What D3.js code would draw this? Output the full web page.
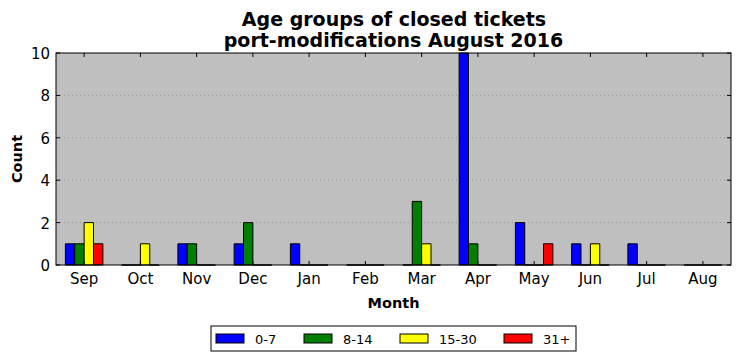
<!DOCTYPE html>
<html>
<head>
<meta charset="utf-8">
<script src="https://cdn.jsdelivr.net/npm/d3@7"></script>
<style>
  body { margin: 0; background: #fff; }
  text { font-family: "DejaVu Sans", sans-serif; }
</style>
</head>
<body>
<div id="chart"></div>
<script>
const months = ["Sep", "Oct", "Nov", "Dec", "Jan", "Feb", "Mar", "Apr", "May", "Jun", "Jul", "Aug"];
const groups = ["0-7", "8-14", "15-30", "31+"];
const colors = ["#0000ff", "#008000", "#ffff00", "#ff0000"];
const age0to7 = [1, 0, 1, 1, 1, 0, 0, 10, 2, 1, 1, 0];
const age8to14 = [1, 0, 1, 2, 0, 0, 3, 1, 0, 0, 0, 0];
const age15to30 = [2, 1, 0, 0, 0, 0, 1, 0, 0, 1, 0, 0];
const age31plus = [1, 0, 0, 0, 0, 0, 0, 0, 1, 0, 0, 0];
const yTicks = [0, 2, 4, 6, 8, 10];

const series = [age0to7, age8to14, age15to30, age31plus];

const W = 740, H = 361;
const plot = { left: 56, right: 731, top: 53, bottom: 265 };

const svg = d3.select("#chart").append("svg")
    .attr("width", W)
    .attr("height", H);

const x = d3.scaleLinear().domain([-0.5, months.length - 0.5]).range([plot.left, plot.right]);
const y = d3.scaleLinear().domain([0, 10]).range([plot.bottom, plot.top]);
const bw = 1 / 6;

// background
svg.append("rect")
    .attr("x", plot.left).attr("y", plot.top)
    .attr("width", plot.right - plot.left).attr("height", plot.bottom - plot.top)
    .attr("fill", "#bfbfbf");

// grid
svg.selectAll(".grid")
    .data(yTicks.slice(1, -1))
    .enter().append("line")
    .attr("x1", plot.left).attr("x2", plot.right)
    .attr("y1", d => y(d)).attr("y2", d => y(d))
    .attr("stroke", "#8a8a8a")
    .attr("stroke-width", 0.8)
    .attr("stroke-dasharray", "1,3");

// bars
series.forEach((vals, gi) => {
  svg.selectAll(".bar" + gi)
    .data(vals)
    .enter().append("path")
    .attr("d", (v, i) => {
      const x0 = x(i + (gi - 2) * bw), x1 = x(i + (gi - 1) * bw);
      return `M${x0},${y(0)}V${y(v)}H${x1}V${y(0)}Z`;
    })
    .attr("fill", colors[gi])
    .attr("stroke", "#000")
    .attr("stroke-width", 1);
});

// axes (classic style: ticks inside, on all sides)
const tickLen = 4;
const ax = svg.append("g");
months.forEach((m, i) => {
  ax.append("line").attr("x1", x(i)).attr("x2", x(i))
    .attr("y1", plot.bottom).attr("y2", plot.bottom - tickLen).attr("stroke", "#000");
  ax.append("line").attr("x1", x(i)).attr("x2", x(i))
    .attr("y1", plot.top).attr("y2", plot.top + tickLen).attr("stroke", "#000");
  ax.append("text").attr("x", x(i)).attr("y", plot.bottom + 19)
    .attr("text-anchor", "middle").attr("font-size", 15).text(m);
});
yTicks.forEach(t => {
  ax.append("line").attr("x1", plot.left).attr("x2", plot.left + tickLen)
    .attr("y1", y(t)).attr("y2", y(t)).attr("stroke", "#000");
  ax.append("line").attr("x1", plot.right).attr("x2", plot.right - tickLen)
    .attr("y1", y(t)).attr("y2", y(t)).attr("stroke", "#000");
  ax.append("text").attr("x", plot.left - 6).attr("y", y(t) + 6)
    .attr("text-anchor", "end").attr("font-size", 15).text(t);
});

svg.append("rect")
    .attr("x", plot.left).attr("y", plot.top)
    .attr("width", plot.right - plot.left).attr("height", plot.bottom - plot.top)
    .attr("fill", "none").attr("stroke", "#000").attr("stroke-width", 1);

// titles
svg.append("text").attr("x", (plot.left + plot.right) / 2 + 0.5).attr("y", 26)
    .attr("text-anchor", "middle").attr("font-size", 19).attr("font-weight", "bold")
    .text("Age groups of closed tickets");
svg.append("text").attr("x", (plot.left + plot.right) / 2).attr("y", 47)
    .attr("text-anchor", "middle").attr("font-size", 19).attr("font-weight", "bold")
    .text("port-modifications August 2016");
svg.append("text").attr("x", (plot.left + plot.right) / 2).attr("y", 308)
    .attr("text-anchor", "middle").attr("font-size", 14.5).attr("font-weight", "bold")
    .text("Month");
svg.append("text").attr("transform", `translate(22,${(plot.top + plot.bottom) / 2}) rotate(-90)`)
    .attr("text-anchor", "middle").attr("font-size", 14.5).attr("font-weight", "bold")
    .text("Count");

// legend
const lg = svg.append("g");
lg.append("rect").attr("x", 211).attr("y", 326).attr("width", 365).attr("height", 25)
    .attr("fill", "#fff").attr("stroke", "#000").attr("stroke-width", 1);
const legX = [216, 304, 400, 504];
groups.forEach((g, i) => {
  lg.append("rect").attr("x", legX[i]).attr("y", 334).attr("width", 28).attr("height", 9)
    .attr("fill", colors[i]).attr("stroke", "#000").attr("stroke-width", 1);
  lg.append("text").attr("x", legX[i] + 39).attr("y", 343.5)
    .attr("font-size", 13).text(g);
});
</script>
</body>
</html>
